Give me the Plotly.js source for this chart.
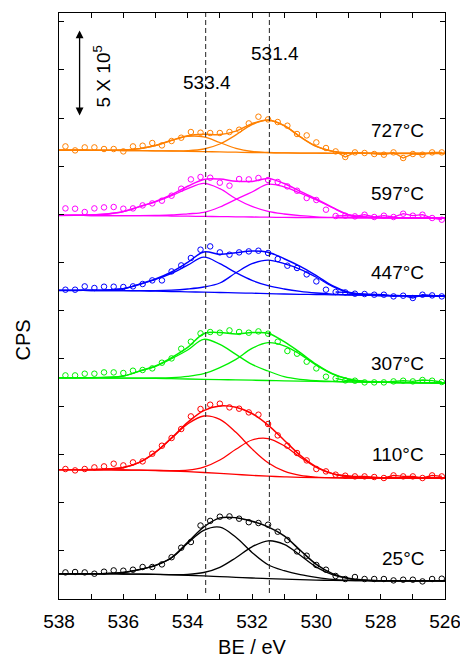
<!DOCTYPE html>
<html><head><meta charset="utf-8">
<script src="https://cdn.plot.ly/plotly-3.0.1.min.js"></script>
<style>html,body{margin:0;padding:0;background:#fff}#chart{width:460px;height:658px}</style>
</head><body><div id="chart"></div>
<script>
// Binding energy of the measured points (eV)
const beData = [537.8,537.5,537.2,536.9,536.6,536.3,536.0,535.7,535.4,535.1,534.8,534.5,534.2,533.9,533.6,533.3,533.0,532.7,532.4,532.1,531.8,531.5,531.2,530.9,530.6,530.3,530.0,529.7,529.4,529.1,528.8,528.5,528.2,527.9,527.6,527.3,527.0,526.7,526.4,526.1];
// Binding energy grid of the fitted curves (eV)
const beFit = [538,537.5,537,536.5,536,535.5,535,534.5,534,533.5,533,532.5,532,531.5,531,530.5,530,529.5,529,528.5,528,527.5,527,526.5,526];

const temps = ['25°C','110°C','307°C','447°C','597°C','727°C'];

// Measured intensity (stacked, arbitrary offset units; 96.2 units = 5 x 10^5 CPS)
const cps25  = [26.6,27,26.6,25.3,27.3,28.6,28.3,29.3,32,32,34.6,41.8,51.3,57,73.5,78.1,82.3,82.6,80.3,76.8,76,74.3,67.3,59,47.6,43.3,34,29.3,23,20,22,20,20,20,18.6,19.3,19.3,17.6,20,20.3];
const cps110 = [130,128.6,130,131.6,132.6,135.3,133.6,136.6,137.6,145.3,153.3,161,170,182.6,190,194.3,195.3,191.6,190.3,186.6,184.3,175,163.6,153.3,146,138.6,130,127.6,124.3,123.3,122.6,122.6,122,121,123.6,122.6,122.6,121,123.6,122.6];
const cps307 = [223.6,223.6,225.3,225.3,226.6,226.6,226,228.3,229,230.6,236.3,240.6,250.3,257.3,265.6,267,266.3,268.6,267,266.3,267.6,265.3,257.3,248,245.3,237.3,230.6,222.3,220.6,218.6,218.3,216.6,216.6,216.6,217.6,218.3,217.6,219,218.3,217];
const cps447 = [309.3,309.3,312.6,311,312.3,312.3,312,312.6,315,318.6,318.6,327.6,333.6,341,349.3,352.6,346.6,344.3,346.6,347.6,348.3,346,340,333.3,331,324.6,317.6,309.3,307,306.6,305.3,305,304.3,304.3,302.6,303.3,301,304.3,303.6,302.6];
const cps597 = [390.6,390.3,387,390.6,391.6,392,390.3,390.6,393.6,395.6,398.3,403.3,410.3,419.6,422,421.3,416.3,413.3,420,419.6,421,419,417,412.6,408.3,401,399,389.3,383,383.3,382.6,384.3,382,383.3,382,385.3,383.3,384.3,381,379.3];
const cps727 = [452.6,448.6,451.6,451.6,450,450,447.6,452.6,453.3,456,453.6,458,461.3,467,466.3,466,466,467,469.3,475.6,482.3,479.6,477,473.3,465,463.6,456.6,451,447.6,442,446.6,446,445,444.3,446.6,441,445,444.3,446.6,446.6];

// Fitted background
const bg25  = [25.2,25.2,25.1,25.1,25.0,24.9,24.6,24.2,23.7,23.1,22.4,21.7,21.0,20.4,19.8,19.3,18.9,18.6,18.4,18.3,18.2,18.2,18.2,18.2,18.2];
const bg110 = [129.3,129.3,129.2,129.1,129.0,128.8,128.5,128.0,127.3,126.5,125.6,124.6,123.6,122.8,122.2,121.7,121.4,121.2,121.0,121.0,121.0,121.0,121.0,121.0,121.0];
const bg307 = [221.2,221.2,221.1,221.0,220.9,220.8,220.6,220.3,220.0,219.7,219.4,219.1,218.8,218.5,218.2,217.9,217.6,217.3,217.1,216.9,216.7,216.5,216.3,216.2,216.0];
const bg447 = [308.6,308.6,308.5,308.4,308.3,308.1,307.8,307.5,307.2,306.8,306.5,306.2,305.8,305.4,305.0,304.7,304.5,304.2,304.0,303.8,303.5,303.4,303.2,303.1,303.0];
const bg597 = [383.6,383.6,383.5,383.5,383.4,383.3,383.2,383.0,382.8,382.6,382.4,382.2,382.0,381.8,381.6,381.5,381.4,381.3,381.2,381.2,381.1,381.1,381.0,381.0,381.0];
const bg727 = [448.8,448.8,448.7,448.6,448.5,448.4,448.2,448.0,447.7,447.4,447.1,446.8,446.5,446.3,446.1,445.9,445.8,445.7,445.6,445.6,445.6,445.6,445.6,445.6,445.6];

// High-BE component (~533.4 eV), height above background
const hi25  = [0,0,0.2,0.5,1.5,4.5,9,17,32,45.5,49.4,40,25.6,13.9,8.5,5,2.7,1.0,0.3,0,0,0,0,0,0];
const hi110 = [0,0,0.2,0.9,2.5,7.8,18.2,32.7,47.7,56.5,54.1,42.1,26.5,13.5,5.6,1.9,0.5,0.1,0,0,0,0,0,0,0];
const hi307 = [0,0,0.2,0.7,2,7,12,20,29,40,35.2,25.5,15.8,9.5,4.1,1.7,0.7,0.3,0.1,0,0,0,0,0,0];
const hi447 = [0,0,0.2,0.7,2,6.5,11.7,18.2,26.6,35,28.8,20.1,12.8,7.9,5,2.9,1.5,0.7,0.3,0.1,0,0,0,0,0];
const hi597 = [0,0.2,0.5,1.5,4,9,14,20.3,27.5,33,27.9,18.1,10.6,5.8,3.4,1.8,0.8,0.3,0.1,0,0,0,0,0,0];
const hi727 = [0,0,0,0.1,0.5,1.9,5.3,10.6,14.9,14.7,9.4,3.8,1.0,0.2,0,0,0,0,0,0,0,0,0,0,0];

// Low-BE component (~531.4 eV), height above background
const lo25  = [0,0,0,0,0,0,0,0.2,0.9,3.4,9.3,19.6,31.2,37.8,34.8,24.4,13,5.8,2,0.6,0.1,0,0,0,0];
const lo110 = [0,0,0,0,0,0,0.1,0.4,1.6,5.4,13.4,25.1,35.4,37.6,31,20.1,10.3,4.1,1.3,0.3,0.1,0,0,0,0];
const lo307 = [0,0,0,0,0,0.1,0.4,1.1,2.6,5.6,11.9,20.5,31.8,37.8,35,26.7,16.3,7.7,2.8,0.8,0.2,0,0,0,0];
const lo447 = [0,0,0,0,0,0.2,0.5,1.3,2.8,5.2,9.5,20,29.5,33.5,30.3,25,17.3,8.4,2.5,0.6,0.1,0,0,0,0];
const lo597 = [0,0,0,0,0,0.1,0.4,1,2.4,4,9.6,17.5,25,33,30.5,24.3,17.8,10,3,0.8,0.2,0,0,0,0];
const lo727 = [0,0,0,0,0,0,0,0.1,0.6,2.6,7.9,17.3,27.8,32.5,27.3,16.3,6.8,2.0,0.4,0.1,0,0,0,0,0];

const refLines = [533.44, 531.46];
const refLabels = ['533.4', '531.4'];

// ---- styling / assembly ----
const colors = ['#000000','#ff0000','#00f000','#0000ff','#ff00ff','#ff8000'];
const spectra = [
  {d:cps25, bg:bg25, hi:hi25, lo:lo25, noise:false},
  {d:cps110, bg:bg110, hi:hi110, lo:lo110, noise:true},
  {d:cps307, bg:bg307, hi:hi307, lo:lo307, noise:true},
  {d:cps447, bg:bg447, hi:hi447, lo:lo447, noise:true},
  {d:cps597, bg:bg597, hi:hi597, lo:lo597, noise:true},
  {d:cps727, bg:bg727, hi:hi727, lo:lo727, noise:true}
];
const labelY = [40.3, 144.3, 235.8, 326.8, 405.3, 468.8];

const traces = [];
spectra.forEach((s, i) => {
  const c = colors[i];
  const ln = {color:c, width:1.3, shape:'spline', smoothing:1};
  const pA = s.bg.map((v,k)=>v + s.hi[k]);
  const pB = s.bg.map((v,k)=>v + s.lo[k]);
  const env = s.bg.map((v,k)=>v + s.hi[k] + s.lo[k]);
  traces.push({x:beFit, y:s.bg, mode:'lines', line:ln, hoverinfo:'skip'});
  traces.push({x:beFit, y:pA, mode:'lines', line:ln, hoverinfo:'skip'});
  traces.push({x:beFit, y:pB, mode:'lines', line:ln, hoverinfo:'skip'});
  traces.push({x:beFit, y:env, mode:'lines', line:{color:c, width:1.5, shape:'spline', smoothing:1}, hoverinfo:'skip'});
  if (s.noise) {
    traces.push({x:beData.slice(28), y:s.d.slice(28), mode:'lines', line:{color:c, width:1.3}, hoverinfo:'skip'});
  }
  traces.push({x:beData, y:s.d, mode:'markers', marker:{symbol:'circle-open', size:5.5, color:c, line:{width:1, color:c}}, hoverinfo:'skip'});
});

const ann = [];
temps.forEach((t,i)=>{
  ann.push({x:526.58, y:labelY[i], xref:'x', yref:'y', text:t, showarrow:false, xanchor:'right', yanchor:'middle', font:{size:19}});
});
ann.push({x:533.4, y:516.8, xref:'x', yref:'y', text:refLabels[0], showarrow:false, xanchor:'center', yanchor:'middle', font:{size:19}});
ann.push({x:531.28, y:545.3, xref:'x', yref:'y', text:refLabels[1], showarrow:false, xanchor:'center', yanchor:'middle', font:{size:19}});
ann.push({x:536.67, y:522.3, xref:'x', yref:'y', text:'5 X 10<sup>5</sup>', showarrow:false, textangle:-90, xanchor:'center', yanchor:'middle', font:{size:19}});
ann.push({x:537.36, y:568.6, ax:537.36, ay:471.6, xref:'x', yref:'y', axref:'x', ayref:'y', text:' ', showarrow:true,
  arrowhead:2, startarrowhead:2, arrowside:'end+start', arrowsize:1.2, startarrowsize:1.2, arrowwidth:1.3, arrowcolor:'#000'});
ann.push({x:-0.092, y:0.442, xref:'paper', yref:'paper', text:'CPS', showarrow:false, textangle:-90, xanchor:'center', yanchor:'middle', font:{size:20}});

const shapes = refLines.map(x=>({type:'line', xref:'x', yref:'y', x0:x, x1:x, y0:6, y1:586, line:{color:'#222', width:1, dash:'5px,3px'}}));

const layout = {
  width:460, height:658,
  margin:{l:59, r:15, t:13, b:59},
  paper_bgcolor:'#fff', plot_bgcolor:'#fff',
  showlegend:false,
  font:{family:'Arial, "Liberation Sans", sans-serif', size:19, color:'#000'},
  xaxis:{range:[538,526], dtick:2, tick0:0, ticks:'inside', ticklen:5, tickwidth:1, tickcolor:'#000',
    minor:{dtick:1, ticks:'inside', ticklen:5, tickwidth:1, tickcolor:'#000'},
    mirror:'allticks', showline:true, linecolor:'#000', linewidth:1.2, showgrid:false, zeroline:false,
    tickfont:{size:19}, ticklabelstandoff:5, ticklabeloverflow:'allow',
    title:{text:'BE / eV', font:{size:20}, standoff:13}},
  yaxis:{range:[0,586], dtick:48.1, tick0:0, ticks:'inside', ticklen:5, tickwidth:1, tickcolor:'#000',
    showticklabels:false, mirror:'allticks', showline:true, linecolor:'#000', linewidth:1.2,
    showgrid:false, zeroline:false},
  annotations:ann,
  shapes:shapes
};

Plotly.newPlot('chart', traces, layout, {staticPlot:true, displayModeBar:false});
</script>
</body></html>
